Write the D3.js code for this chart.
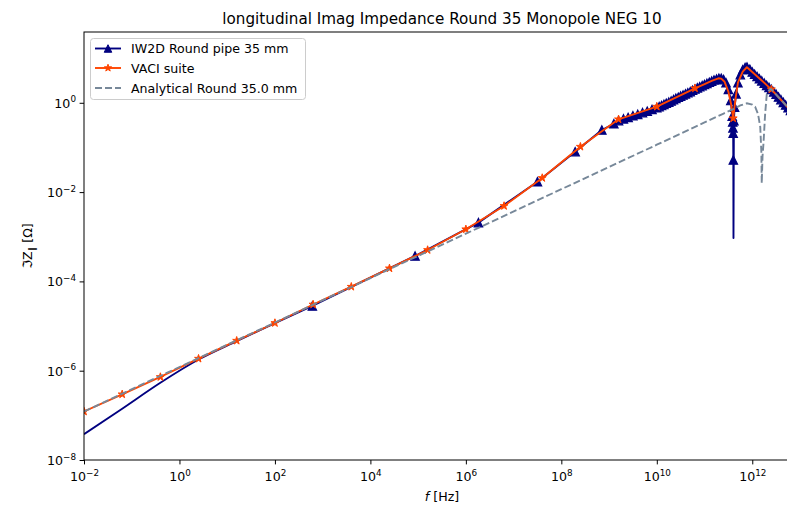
<!DOCTYPE html>
<html><head><meta charset="utf-8">
<script src="https://cdn.jsdelivr.net/npm/d3@7"></script>
<style>
body{margin:0;background:#fff;}
svg{display:block;font-family:"DejaVu Sans",sans-serif;}
</style>
</head><body>
<svg id="c" width="787" height="505"></svg>
<script>
// ---------- data ----------
const title = "longitudinal Imag Impedance Round 35 Monopole NEG 10";
const seriesNames = ["IW2D Round pipe 35 mm", "VACI suite", "Analytical Round 35.0 mm"];

// IW2D: low-frequency part of the line (no markers)
const iw2dLineF = [1e-2, 0.0631, 0.398, 2.51, 15.8, 100];
const iw2dLineZ = [3.77e-8, 1.41e-7, 5.37e-7, 1.78e-6, 4.60e-6, 1.16e-5];
// IW2D: points with markers (the deep notch point is listed separately)
const iw2dF = [608, 8.63e4, 1.83e6, 3.16e7, 1.95e8, 7.06e8,
  1.26e9, 1.58e9, 2.00e9, 2.51e9, 3.16e9, 3.98e9, 5.01e9, 6.31e9, 7.94e9,
  1.00e10, 1.12e10, 1.26e10, 1.41e10, 1.58e10, 1.78e10, 2.00e10, 2.24e10, 2.51e10, 2.82e10,
  3.16e10, 3.55e10, 3.98e10, 4.47e10, 5.01e10, 5.62e10, 6.31e10, 7.08e10, 7.94e10, 8.91e10,
  1.00e11, 1.12e11, 1.26e11, 1.41e11, 1.58e11, 1.78e11, 2.00e11, 2.24e11, 2.51e11, 2.82e11,
  3.16e11, 3.55e11, 3.80e11, 3.89e11, 3.94e11, 3.98e11, 4.01e11,
  4.12e11, 4.27e11, 4.57e11, 5.01e11, 5.62e11, 6.31e11, 7.08e11, 7.76e11, 8.91e11,
  1.00e12, 1.12e12, 1.26e12, 1.41e12, 1.58e12, 1.78e12, 2.00e12, 2.24e12, 2.51e12, 2.82e12,
  3.16e12, 3.55e12, 3.98e12, 4.47e12, 5.01e12, 5.62e12, 6.31e12, 7.08e12, 7.94e12, 8.91e12, 1.00e13];
const iw2dZ = [2.82e-5, 3.71e-4, 2.07e-3, 1.71e-2, 0.0804, 0.246,
  0.339, 0.398, 0.437, 0.468, 0.513, 0.550, 0.603, 0.646, 0.708,
  0.776, 0.822, 0.871, 0.923, 0.977, 1.035, 1.096, 1.175, 1.259, 1.334,
  1.413, 1.496, 1.585, 1.679, 1.778, 1.905, 2.042, 2.163, 2.291, 2.427,
  2.570, 2.723, 2.884, 3.055, 3.236, 3.388, 3.548, 3.548, 3.311, 2.818,
  1.995, 1.122, 0.501, 0.372, 0.275, 0.209, 0.0525,
  0.398, 0.794, 1.585, 2.818, 4.266, 5.495, 6.166, 6.310, 5.623,
  4.898, 4.365, 3.890, 3.467, 3.090, 2.754, 2.455, 2.213, 1.995, 1.758,
  1.549, 1.349, 1.175, 1.023, 0.891, 0.776, 0.676, 0.589, 0.513, 0.447, 0.389];
const iw2dNotchF = 4.04e11;
const iw2dNotchZ = 9.33e-4;

// VACI: markers
const vaciF = [1e-2, 0.0631, 0.398, 2.51, 15.8, 100, 631, 3981, 2.51e4, 1.58e5,
  1e6, 6.31e6, 3.98e7, 2.51e8, 1.58e9, 1e10, 6.31e10, 3.98e11, 2.51e12];
const vaciZ = [1.22e-7, 2.96e-7, 7.23e-7, 1.86e-6, 4.70e-6, 1.17e-5, 3.04e-5, 7.60e-5, 1.96e-4, 5.05e-4,
  1.47e-3, 4.89e-3, 2.07e-2, 0.104, 0.427, 0.82, 2.11, 0.45, 2.0];
// VACI: extra line vertices between markers
const vaciExtraF = [1e11, 1.41e11, 1.95e11, 2.24e11, 2.63e11, 3.16e11, 3.63e11,
  4.47e11, 5.01e11, 6.31e11, 7.71e11, 1e12, 1.58e12, 3.98e12, 6.31e12, 1e13];
const vaciExtraZ = [2.61, 3.09, 3.54, 3.47, 2.95, 1.78, 0.891,
  1.26, 2.82, 5.01, 6.24, 4.90, 3.16, 1.17, 0.676, 0.389];

// Analytical (dashed line)
const anaF = [1e-2, 1, 100, 1e4, 1e6, 1e8, 1e10, 1e11, 2.51e11, 3.98e11, 5.62e11, 7.71e11,
  1e12, 1.15e12, 1.32e12, 1.47e12, 1.55e12, 1.58e12, 1.64e12, 1.72e12, 1.86e12, 2.02e12,
  2.37e12, 2.51e12, 3.98e12, 6.31e12, 1e13];
const anaZ = [1.22e-7, 1.21e-6, 1.20e-5, 1.19e-4, 1.17e-3, 1.16e-2, 0.115, 0.363, 0.575, 0.724, 0.871, 0.977,
  0.912, 0.813, 0.562, 0.288, 0.0794, 0.0158, 0.0631, 0.126, 0.562, 1.62,
  2.04, 2.0, 1.17, 0.676, 0.389];

const xTicks = [1e-2, 1, 1e2, 1e4, 1e6, 1e8, 1e10, 1e12];
const xTickExp = ["\u22122", "0", "2", "4", "6", "8", "10", "12"];
const yTicks = [1e-8, 1e-6, 1e-4, 1e-2, 1];
const yTickExp = ["\u22128", "\u22126", "\u22124", "\u22122", "0"];

// ---------- drawing ----------
const m = {l: 84, r: 800, t: 32, b: 460};
const svg = d3.select("#c");
const x = d3.scaleLog().domain([1e-2, 1e13]).range([m.l, m.r]);
const y = d3.scaleLog().domain([1e-8, 38.5]).range([m.b, m.t]);

const colIW = "#000080", colVA = "#ff4500", colAN = "#778899";

svg.append("defs").append("clipPath").attr("id", "clip")
  .append("rect").attr("x", m.l).attr("y", m.t).attr("width", m.r - m.l).attr("height", m.b - m.t);

const plot = svg.append("g").attr("clip-path", "url(#clip)");
const line = d3.line().x(d => x(d[0])).y(d => y(d[1]));

const triPath = "M0,-4.2L-4.2,4.2L4.2,4.2Z";
function starPath(R) {
  const r = R * 0.381966; let p = "";
  for (let i = 0; i < 10; i++) {
    const a = -Math.PI / 2 + i * Math.PI / 5;
    const rr = i % 2 === 0 ? R : r;
    p += (i ? "L" : "M") + (rr * Math.cos(a)).toFixed(2) + "," + (rr * Math.sin(a)).toFixed(2);
  }
  return p + "Z";
}
const star = starPath(4.2);

// IW2D line
const iwMarks = iw2dF.map((f, i) => [f, iw2dZ[i]]);
const iwLinePts = iw2dLineF.map((f, i) => [f, iw2dLineZ[i]])
  .concat(iwMarks, [[iw2dNotchF, iw2dNotchZ]])
  .sort((a, b) => a[0] - b[0]);
plot.append("path").attr("d", d3.line().curve(d3.curveMonotoneX).x(d => x(d[0])).y(d => y(d[1]))(iwLinePts.slice(0, 7)))
  .attr("fill", "none").attr("stroke", colIW).attr("stroke-width", 1.9);
plot.append("path").attr("d", line(iwLinePts.slice(6))).attr("fill", "none")
  .attr("stroke", colIW).attr("stroke-width", 1.9).attr("stroke-linejoin", "round");
plot.append("g").selectAll("path").data(iwMarks).join("path")
  .attr("d", triPath).attr("transform", d => `translate(${x(d[0])},${y(d[1])})`)
  .attr("fill", colIW).attr("stroke", colIW).attr("stroke-width", 1.2).attr("stroke-linejoin", "miter");

// VACI line
const vaMarks = vaciF.map((f, i) => [f, vaciZ[i]]);
const vaLinePts = vaMarks.concat(vaciExtraF.map((f, i) => [f, vaciExtraZ[i]])).sort((a, b) => a[0] - b[0]);
plot.append("path").attr("d", line(vaLinePts)).attr("fill", "none")
  .attr("stroke", colVA).attr("stroke-width", 1.9).attr("stroke-linejoin", "round");
plot.append("g").selectAll("path").data(vaMarks).join("path")
  .attr("d", star).attr("transform", d => `translate(${x(d[0])},${y(d[1])})`)
  .attr("fill", colVA).attr("stroke", colVA).attr("stroke-width", 1.0);

// Analytical
plot.append("path").attr("d", line(anaF.map((f, i) => [f, anaZ[i]]))).attr("fill", "none")
  .attr("stroke", colAN).attr("stroke-width", 1.9).attr("stroke-dasharray", "7,3");

// axes
const xAx = svg.append("g").attr("transform", `translate(0,${m.b})`)
  .call(d3.axisBottom(x).tickValues(xTicks).tickSize(4.4).tickSizeOuter(0).tickFormat(""));
xAx.select(".domain").remove();
xAx.selectAll(".tick line").attr("stroke", "#000").attr("stroke-width", 1);
xAx.selectAll(".tick").each(function(d, i) {
  const t = d3.select(this).append("text").attr("y", 21).attr("text-anchor", "middle")
    .attr("fill", "#000").attr("font-size", 12.6).attr("font-family", "DejaVu Sans");
  t.append("tspan").text("10");
  t.append("tspan").attr("dy", -5.5).attr("font-size", 8.8).text(xTickExp[i]);
});
const yAx = svg.append("g").attr("transform", `translate(${m.l},0)`)
  .call(d3.axisLeft(y).tickValues(yTicks).tickSize(4.4).tickSizeOuter(0).tickFormat(""));
yAx.select(".domain").remove();
yAx.selectAll(".tick line").attr("stroke", "#000").attr("stroke-width", 1);
yAx.selectAll(".tick").each(function(d, i) {
  const t = d3.select(this).append("text").attr("x", -8).attr("y", 4.5).attr("text-anchor", "end")
    .attr("fill", "#000").attr("font-size", 12.6).attr("font-family", "DejaVu Sans");
  t.append("tspan").text("10");
  t.append("tspan").attr("dy", -5.5).attr("font-size", 8.8).text(yTickExp[i]);
});

// spines
svg.append("rect").attr("x", m.l).attr("y", m.t).attr("width", m.r - m.l).attr("height", m.b - m.t)
  .attr("fill", "none").attr("stroke", "#000").attr("stroke-width", 1);

// title and labels
svg.append("text").attr("x", (m.l + m.r) / 2).attr("y", 24).attr("text-anchor", "middle")
  .attr("font-size", 15.2).attr("fill", "#000").text(title);
const xl = svg.append("text").attr("x", (m.l + m.r) / 2).attr("y", 501).attr("text-anchor", "middle")
  .attr("font-size", 12.6).attr("fill", "#000");
xl.append("tspan").attr("font-style", "italic").text("f");
xl.append("tspan").text(" [Hz]");
const yl = svg.append("text").attr("transform", `translate(32,${(m.t + m.b) / 2}) rotate(-90)`)
  .attr("text-anchor", "middle").attr("font-size", 12.6).attr("fill", "#000");
yl.append("tspan").text("\u2111Z");
yl.append("tspan").attr("dy", 3).attr("font-size", 9).text("\u2225");
yl.append("tspan").attr("dy", -3).text(" [\u03A9]");

// legend
const lg = svg.append("g");
lg.append("rect").attr("x", 90.5).attr("y", 38.5).attr("width", 215).attr("height", 61).attr("rx", 3)
  .attr("fill", "#fff").attr("fill-opacity", 0.8).attr("stroke", "#ccc").attr("stroke-width", 1);
const rows = [48.5, 68, 88];
const styles = [
  {c: colIW, mk: triPath, dash: null},
  {c: colVA, mk: star, dash: null},
  {c: colAN, mk: null, dash: "7,3"}
];
seriesNames.forEach((name, i) => {
  const s = styles[i];
  lg.append("line").attr("x1", 95).attr("x2", 121).attr("y1", rows[i]).attr("y2", rows[i])
    .attr("stroke", s.c).attr("stroke-width", 1.9).attr("stroke-dasharray", s.dash);
  if (s.mk) lg.append("path").attr("d", s.mk).attr("transform", `translate(108,${rows[i]}) scale(0.9)`)
    .attr("fill", s.c).attr("stroke", s.c).attr("stroke-width", 1.1);
  lg.append("text").attr("x", 131).attr("y", rows[i] + 4.6).attr("font-size", 12.6)
    .attr("fill", "#000").text(name);
});
</script>
</body></html>
